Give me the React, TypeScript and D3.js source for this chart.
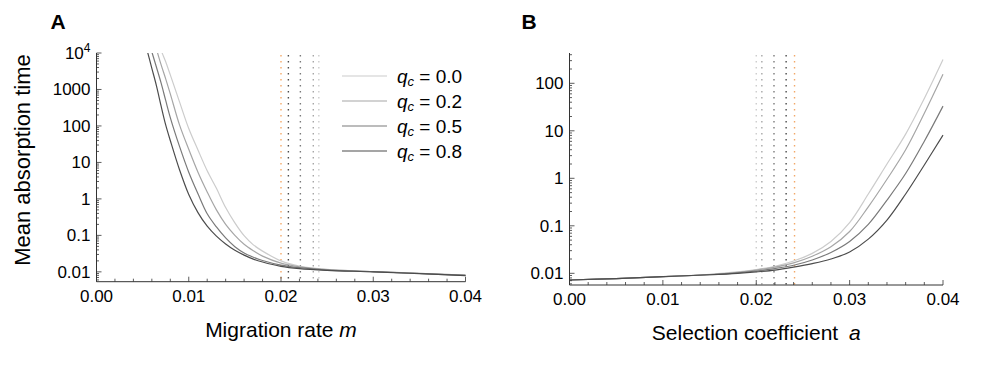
import React from "react";
import * as d3 from "d3";

// ---------- data ----------
const qLabels = ["0.0", "0.2", "0.5", "0.8"];
const seriesColors = ["#cccccc", "#a6a6a6", "#7a7a7a", "#4c4c4c"];
const orange = "#f2a868";

// Panel A: migration rate m
const mGrid = [0.0055, 0.006, 0.0065, 0.007, 0.0075, 0.008, 0.009, 0.010, 0.011, 0.012, 0.013, 0.014, 0.015, 0.016, 0.017, 0.018, 0.020, 0.022, 0.025, 0.030, 0.035, 0.040];
const timeA_q00 = [200000, 79000, 31600, 12000, 5750, 2510, 457, 85, 21.9, 5.9, 1.95, 0.58, 0.22, 0.098, 0.055, 0.037, 0.020, 0.0145, 0.0117, 0.0102, 0.0091, 0.0081];
const timeA_q02 = [79000, 31600, 12600, 4800, 1950, 760, 107, 22.9, 5.4, 1.55, 0.50, 0.20, 0.10, 0.057, 0.038, 0.027, 0.0174, 0.0138, 0.0115, 0.0102, 0.0091, 0.0081];
const timeA_q05 = [28000, 10700, 4070, 1510, 500, 170, 27.5, 5.4, 1.38, 0.39, 0.17, 0.085, 0.049, 0.0330, 0.0252, 0.0205, 0.0153, 0.0130, 0.0112, 0.0101, 0.0090, 0.0080];
const timeA_q08 = [11500, 3800, 1260, 355, 107, 40, 6.3, 1.32, 0.42, 0.178, 0.095, 0.058, 0.039, 0.0288, 0.0224, 0.0186, 0.0141, 0.0122, 0.011, 0.0100, 0.0089, 0.0079];
const thresholdsA = [0.0200, 0.0208, 0.0221, 0.0235, 0.0241];

// Panel B: selection coefficient a
const aGrid = [0, 0.005, 0.01, 0.015, 0.018, 0.02, 0.022, 0.024, 0.026, 0.028, 0.030, 0.032, 0.034, 0.036, 0.038, 0.040];
const timeB_q00 = [0.00724, 0.00776, 0.00851, 0.00955, 0.0107, 0.0120, 0.0141, 0.0182, 0.0263, 0.0468, 0.117, 0.468, 2.0, 8.51, 47.9, 316];
const timeB_q02 = [0.00724, 0.00776, 0.00851, 0.00944, 0.0105, 0.0117, 0.0135, 0.0166, 0.0229, 0.0363, 0.0759, 0.251, 0.955, 3.98, 23.4, 155];
const timeB_q05 = [0.00724, 0.00776, 0.00851, 0.00933, 0.0102, 0.0112, 0.0126, 0.0148, 0.0191, 0.0275, 0.0468, 0.107, 0.347, 1.26, 6.03, 33.1];
const timeB_q08 = [0.00724, 0.00776, 0.00851, 0.00933, 0.0100, 0.0107, 0.0117, 0.0135, 0.0160, 0.0200, 0.0282, 0.0525, 0.132, 0.468, 1.91, 8.13];
const thresholdsB = [0.0200, 0.0206, 0.0219, 0.0232, 0.0241];

const xTicks = [0, 0.01, 0.02, 0.03, 0.04];
const xTickLabels = ["0.00", "0.01", "0.02", "0.03", "0.04"];
const yTicksA = [0.01, 0.1, 1, 10, 100, 1000, 10000];
const yTickLabelsA = ["0.01", "0.1", "1", "10", "100", "1000", "10^4"];
const yTicksB = [0.01, 0.1, 1, 10, 100];
const yTickLabelsB = ["0.01", "0.1", "1", "10", "100"];

const FONT = "'Liberation Sans', Arial, Helvetica, sans-serif";

function logMinorTicks(domain: number[]) {
  const [lo, hi] = domain;
  const out: { v: number; major: boolean }[] = [];
  for (let e = Math.floor(Math.log10(lo)); e <= Math.ceil(Math.log10(hi)); e++) {
    for (let k = 1; k <= 9; k++) {
      const v = k * Math.pow(10, e);
      if (v >= lo * 0.9999 && v <= hi * 1.0001) out.push({ v, major: k === 1 });
    }
  }
  return out;
}

function Panel(props: {
  id: string;
  letter: string;
  letterX: number;
  x0: number; x1: number; yTop: number; yBot: number;
  yDomain: number[];
  grid: number[];
  series: number[][];
  thresholds: number[];
  thrColors: string[];
  yTicks: number[];
  yTickLabels: string[];
  xTitle: React.ReactNode;
  xTitleY: number;
}) {
  const { x0, x1, yTop, yBot } = props;
  const x = d3.scaleLinear().domain([0, 0.04]).range([x0, x1]);
  const y = d3.scaleLog().domain(props.yDomain).range([yBot, yTop]);
  const line = d3
    .line<[number, number]>()
    .x((d) => x(d[0]))
    .y((d) => y(d[1]))
    .curve(d3.curveCatmullRom.alpha(0.5));
  const axisColor = "#333";
  const xMinor = d3.range(0, 0.04001, 0.002);
  const yMinor = logMinorTicks(props.yDomain);
  return (
    <g>
      <defs>
        <clipPath id={"clip" + props.id}>
          <rect x={x0} y={yTop} width={x1 - x0 + 2} height={yBot - yTop} />
        </clipPath>
      </defs>
      {/* threshold dotted lines */}
      {props.thresholds.map((t, i) => (
        <line key={"t" + i} x1={x(t)} x2={x(t)} y1={yTop + 2} y2={yBot}
          stroke={props.thrColors[i]} strokeWidth={1.4} strokeDasharray="1.4 4.6" />
      ))}
      {/* curves */}
      <g clipPath={`url(#clip${props.id})`}>
        {props.series.map((s, i) => (
          <path key={"s" + i}
            d={line(props.grid.map((g, j) => [g, s[j]] as [number, number])) || ""}
            fill="none" stroke={seriesColors[i]} strokeWidth={1.2} />
        ))}
      </g>
      {/* axes */}
      <line x1={x0} x2={x1} y1={yBot} y2={yBot} stroke={axisColor} strokeWidth={1} />
      <line x1={x0} x2={x0} y1={yTop} y2={yBot} stroke={axisColor} strokeWidth={1} />
      {xMinor.map((v, i) => {
        const major = i % 5 === 0;
        return (
          <line key={"xm" + i} x1={x(v)} x2={x(v)} y1={yBot} y2={yBot - (major ? 5 : 3)}
            stroke={axisColor} strokeWidth={0.8} />
        );
      })}
      {yMinor.map((t, i) => (
        <line key={"ym" + i} x1={x0} x2={x0 + (t.major ? 5 : 2.5)} y1={y(t.v)} y2={y(t.v)}
          stroke={axisColor} strokeWidth={0.8} />
      ))}
      {xTicks.map((v, i) => (
        <text key={"xl" + i} x={x(v)} y={yBot + 20} textAnchor="middle" fontSize={17} fontFamily={FONT}>
          {xTickLabels[i]}
        </text>
      ))}
      {props.yTicks.map((v, i) => {
        const lab = props.yTickLabels[i];
        if (lab.includes("^")) {
          const [b, e] = lab.split("^");
          return (
            <text key={"yl" + i} x={x0 - 6} y={y(v) + 6} textAnchor="end" fontSize={17} fontFamily={FONT}>
              {b}
              <tspan fontSize={12} dy={-7}>{e}</tspan>
            </text>
          );
        }
        return (
          <text key={"yl" + i} x={x0 - 6} y={y(v) + 6} textAnchor="end" fontSize={17} fontFamily={FONT}>
            {lab}
          </text>
        );
      })}
      <text x={props.letterX} y={28.5} fontSize={21} fontWeight="bold" fontFamily={FONT}>
        {props.letter}
      </text>
      <text x={(x0 + x1) / 2} y={props.xTitleY} textAnchor="middle" fontSize={21} fontFamily={FONT}>
        {props.xTitle}
      </text>
    </g>
  );
}

export default function App() {
  const seriesA = [timeA_q00, timeA_q02, timeA_q05, timeA_q08];
  const seriesB = [timeB_q00, timeB_q02, timeB_q05, timeB_q08];
  const thrColA = [orange, seriesColors[3], seriesColors[2], seriesColors[1], seriesColors[0]];
  const thrColB = [seriesColors[0], seriesColors[1], seriesColors[2], seriesColors[3], orange];
  const legendX0 = 342, legendX1 = 387;
  const legendY = [76, 101, 126, 151];
  return (
    <svg width={1004} height={366} style={{ position: "absolute", left: 0, top: 0, background: "#fff" }}>
      <rect width={1004} height={366} fill="#fff" />
      <Panel id="A" letter="A" letterX={50.5}
        x0={96.5} x1={465.5} yTop={53} yBot={281.7}
        yDomain={[Math.pow(10, -2.27), 10000]}
        grid={mGrid} series={seriesA}
        thresholds={thresholdsA} thrColors={thrColA}
        yTicks={yTicksA} yTickLabels={yTickLabelsA}
        xTitle={<>Migration rate <tspan fontStyle="italic">m</tspan></>}
        xTitleY={337}
      />
      <Panel id="B" letter="B" letterX={521.5}
        x0={569.5} x1={943} yTop={53} yBot={285}
        yDomain={[Math.pow(10, -2.246), Math.pow(10, 2.638)]}
        grid={aGrid} series={seriesB}
        thresholds={thresholdsB} thrColors={thrColB}
        yTicks={yTicksB} yTickLabels={yTickLabelsB}
        xTitle={<>Selection coefficient <tspan dx={5} fontStyle="italic">a</tspan></>}
        xTitleY={340}
      />
      {/* y title */}
      <text transform="translate(30,160) rotate(-90)" textAnchor="middle" fontSize={22} fontFamily={FONT}>
        Mean absorption time
      </text>
      {/* legend */}
      {qLabels.map((q, i) => (
        <g key={"lg" + i}>
          <line x1={legendX0} x2={legendX1} y1={legendY[i]} y2={legendY[i]} stroke={seriesColors[i]} strokeWidth={1.2} />
          <text x={397} y={legendY[i] + 7} fontSize={19} fontFamily={FONT}>
            <tspan fontStyle="italic">q</tspan>
            <tspan fontStyle="italic" fontSize={13} dy={3}>c</tspan>
            <tspan dy={-3}>{" = " + q}</tspan>
          </text>
        </g>
      ))}
    </svg>
  );
}
